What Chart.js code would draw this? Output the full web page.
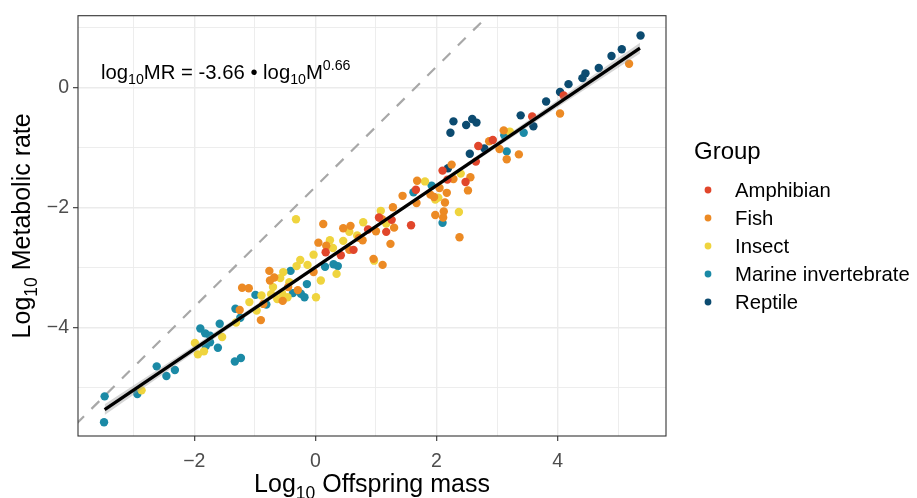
<!DOCTYPE html>
<html>
<head>
<meta charset="utf-8">
<script src="https://cdn.jsdelivr.net/npm/chart.js@4.4.1/dist/chart.umd.min.js"></script>
<style>
  html, body { margin: 0; padding: 0; background: #fff; }
  #wrap { width: 917px; height: 498px; }
</style>
</head>
<body>
<div id="wrap"><canvas id="chart" width="917" height="498"></canvas></div>
<script>
// groups + colours
const groups = ["Amphibian", "Fish", "Insect", "Marine invertebrate", "Reptile"];
const groupColors = ["#e1462b", "#ec8a24", "#efd43e", "#1b8aa6", "#0c4b70"];

// log10 offspring mass / log10 metabolic rate
const amphibianX = [0.17, 0.42, 0.63, 0.87, 1.05, 1.26, 1.17, 1.58, 1.66, 2.10, 2.18, 2.48, 2.69, 2.65, 2.93, 3.58, 4.10];
const amphibianY = [-2.74, -2.79, -2.70, -2.36, -2.16, -2.20, -2.40, -2.29, -1.70, -1.38, -1.53, -1.57, -0.97, -1.23, -0.87, -0.48, -0.13];

const fishX = [-0.90, -1.25, -1.21, -1.10, -0.86, -0.76, -0.75, -0.68, -0.54, -0.45, -0.29, -0.03, 0.05, 0.18, 0.13,
  0.46, 0.58, 0.56, 0.72, 0.78, 1.00, 1.10, 1.30, 1.24, 1.28, 0.96, 1.11, 1.44, 1.68, 1.67, 1.90, 1.96, 2.05,
  2.17, 2.14, 1.98, 2.12, 2.11, 2.38, 2.25, 2.28, 2.56, 2.52, 2.87, 3.04, 3.16, 3.36, 3.11, 4.04, 5.18];
const fishY = [-3.87, -3.70, -3.33, -3.34, -3.60, -3.05, -3.21, -3.16, -3.55, -3.32, -3.37, -3.07, -2.58, -2.63, -2.27,
  -2.34, -2.30, -2.70, -2.50, -2.54, -2.39, -2.19, -2.33, -2.60, -1.99, -2.85, -2.95, -1.80, -1.55, -1.92, -1.78, -1.82, -1.67,
  -1.75, -1.91, -2.12, -2.06, -2.16, -2.49, -1.28, -1.52, -1.49, -1.71, -0.89, -1.02, -1.19, -1.11, -0.71, -0.43, 0.40];

const insectX = [-2.87, -1.99, -1.94, -1.84, -1.54, -1.31, -1.09, -0.97, -0.89, -0.73, -0.70, -0.63, -0.58, -0.53,
  -0.55, -0.46, -0.43, -0.31, -0.25, -0.13, -0.03, 0.01, 0.09, 0.24, 0.29, 0.35, 0.46, 0.56, 0.69, 0.79, 1.08,
  1.17, 0.97, -0.32, 1.81, 1.98, 2.03, 2.37, 2.40, 3.21];
const insectY = [-5.04, -4.25, -4.44, -4.39, -4.15, -3.91, -3.57, -3.71, -3.46, -3.44, -3.32, -3.52, -3.17, -3.07,
  -3.42, -3.49, -3.24, -2.97, -2.87, -2.95, -2.78, -3.49, -3.21, -2.54, -2.67, -3.10, -2.55, -2.40, -2.46, -2.24, -2.05,
  -2.26, -2.88, -2.19, -1.56, -1.86, -1.83, -2.07, -1.43, -0.73];

const marineX = [-3.48, -3.49, -2.94, -2.62, -2.46, -2.32, -1.90, -1.82, -1.81, -1.74, -1.74, -1.58, -1.61, -1.33,
  -1.23, -1.32, -1.24, -0.99, -0.81, -0.41, -0.37, -0.24, -0.18, -0.14, 0.16, 0.30, 0.37, 1.62, 1.92, 2.10,
  3.12, 3.16, 3.44];
const marineY = [-5.14, -5.57, -5.10, -4.64, -4.80, -4.70, -4.01, -4.09, -4.30, -4.24, -4.13, -3.93, -4.33, -4.56,
  -4.50, -3.68, -3.83, -3.45, -3.61, -3.05, -3.42, -3.43, -3.49, -3.27, -2.98, -2.94, -2.97, -1.74, -1.63, -2.25,
  -0.79, -1.06, -0.75];

const reptileX = [2.19, 2.23, 2.28, 2.49, 2.59, 2.66, 2.55, 2.79, 3.39, 3.60, 3.81, 4.04, 4.18, 4.41, 4.46, 4.68, 4.89, 5.06, 5.37];
const reptileY = [-1.34, -0.75, -0.56, -0.62, -0.52, -0.58, -1.10, -1.01, -0.46, -0.64, -0.23, -0.07, 0.06, 0.16, 0.24, 0.33, 0.53, 0.64, 0.87];

// fitted line, its confidence band and the 1:1 reference line
const fitX = [-3.48, 5.36];
const fitY = [-5.36, 0.66];
const bandX = [-3.48, -2.0, -0.5, 0.94, 2.4, 3.9, 5.36];
const bandLo = [-5.45, -4.41, -3.365, -2.377, -1.39, -0.39, 0.57];
const bandHi = [-5.27, -4.295, -3.295, -2.321, -1.32, -0.275, 0.75];
const refX = [-3.95, 2.9];
const refY = [-5.6, 1.25];

// axes
const xGrid = [-3, -2, -1, 0, 1, 2, 3, 4, 5];
const yGrid = [-5, -4, -3, -2, -1, 0, 1];
const xLabels = [-2, 0, 2, 4];
const yLabels = [-4, -2, 0];

const FONT = "'Liberation Sans', Arial, sans-serif";
const pts = (xs, ys) => xs.map((x, i) => ({ x, y: ys[i] }));
const fmt = (v) => (v < 0 ? "\u2212" + Math.abs(v) : String(v));

const pointSets = [
  [amphibianX, amphibianY],
  [fishX, fishY],
  [insectX, insectY],
  [marineX, marineY],
  [reptileX, reptileY],
].map(([xs, ys], i) => ({
  type: "scatter",
  label: groups[i],
  data: pts(xs, ys),
  backgroundColor: groupColors[i],
  borderWidth: 0,
  pointRadius: 4.2,
  order: 5,
}));

// draws a run of text pieces, some of them sub- or superscript
function richWidth(ctx, parts, size) {
  let w = 0;
  parts.forEach((p) => {
    const s = p.k ? size * 0.7 : size;
    ctx.font = s + "px " + FONT;
    w += ctx.measureText(p.t).width;
  });
  return w;
}
function drawRich(ctx, parts, x, y, size) {
  let cx = x;
  parts.forEach((p) => {
    const s = p.k ? size * 0.7 : size;
    ctx.font = s + "px " + FONT;
    let dy = 0;
    if (p.k === "sub") dy = size * 0.28;
    if (p.k === "sup") dy = -size * 0.42;
    ctx.fillText(p.t, cx, y + dy);
    cx += ctx.measureText(p.t).width;
  });
}

const decor = {
  id: "decor",
  afterDraw(chart) {
    const { ctx, chartArea: a } = chart;
    ctx.save();
    ctx.strokeStyle = "#333333";
    ctx.lineWidth = 1.1;
    ctx.strokeRect(a.left, a.top, a.right - a.left, a.bottom - a.top);

    ctx.fillStyle = "#000";
    ctx.textBaseline = "alphabetic";
    ctx.textAlign = "left";
    // equation
    drawRich(ctx, [
      { t: "log" }, { t: "10", k: "sub" }, { t: "MR = -3.66 \u2022 log" },
      { t: "10", k: "sub" }, { t: "M" }, { t: "0.66", k: "sup" },
    ], a.left + 23, a.top + 63, 20.3);

    // axis titles
    const xt = [{ t: "Log" }, { t: "10", k: "sub" }, { t: " Offspring mass" }];
    const xw = richWidth(ctx, xt, 25);
    drawRich(ctx, xt, (a.left + a.right) / 2 - xw / 2, 492, 25);

    const yt = [{ t: "Log" }, { t: "10", k: "sub" }, { t: " Metabolic rate" }];
    const yw = richWidth(ctx, yt, 25);
    ctx.save();
    ctx.translate(30, (a.top + a.bottom) / 2);
    ctx.rotate(-Math.PI / 2);
    drawRich(ctx, yt, -yw / 2, 0, 25);
    ctx.restore();

    // legend
    ctx.font = "24px " + FONT;
    ctx.textBaseline = "middle";
    ctx.fillText("Group", 694, 152);
    ctx.font = "20.3px " + FONT;
    groups.forEach((g, i) => {
      const y = 190 + i * 28;
      ctx.fillStyle = groupColors[i];
      ctx.beginPath();
      ctx.arc(708, y, 3.4, 0, Math.PI * 2);
      ctx.fill();
      ctx.fillStyle = "#000";
      ctx.fillText(g, 735, y + 1);
    });
    ctx.restore();
  },
};

const gridStyle = (majors) => ({
  color: "#ebebeb",
  lineWidth: (c) => (c.tick && majors.includes(c.tick.value) ? 1.4 : 0.9),
  tickColor: (c) => (c.tick && majors.includes(c.tick.value) ? "#333333" : "rgba(0,0,0,0)"),
  tickLength: 5,
  tickWidth: 1.1,
});

new Chart(document.getElementById("chart"), {
  type: "scatter",
  data: {
    datasets: [
      ...pointSets,
      {
        type: "line",
        data: pts(fitX, fitY),
        borderColor: "#000",
        borderWidth: 3.2,
        pointRadius: 0,
        fill: false,
        order: 1,
      },
      {
        type: "line",
        data: pts(bandX, bandHi),
        borderWidth: 0,
        pointRadius: 0,
        backgroundColor: "rgba(153,153,153,0.4)",
        fill: "+1",
        order: 2,
      },
      {
        type: "line",
        data: pts(bandX, bandLo),
        borderWidth: 0,
        pointRadius: 0,
        fill: false,
        order: 2,
      },
      {
        type: "line",
        data: pts(refX, refY),
        borderColor: "#a8a8a8",
        borderWidth: 2.2,
        borderDash: [11, 10.5],
        pointRadius: 0,
        fill: false,
        order: 10,
      },
    ],
  },
  options: {
    responsive: false,
    animation: false,
    devicePixelRatio: 1,
    layout: { padding: { left: 0, top: 12, right: 251, bottom: 0 } },
    plugins: { legend: { display: false }, tooltip: { enabled: false } },
    scales: {
      x: {
        type: "linear",
        min: -3.92,
        max: 5.79,
        afterBuildTicks: (s) => { s.ticks = xGrid.map((v) => ({ value: v })); },
        afterFit: (s) => { s.height = 62; },
        border: { display: false },
        grid: gridStyle(xLabels),
        ticks: {
          autoSkip: false,
          maxRotation: 0,
          padding: 9,
          color: "#4d4d4d",
          font: { family: FONT, size: 19.5 },
          callback: (v) => (xLabels.includes(v) ? fmt(v) : ""),
        },
      },
      y: {
        type: "linear",
        min: -5.8,
        max: 1.2,
        afterBuildTicks: (s) => { s.ticks = yGrid.map((v) => ({ value: v })); },
        afterFit: (s) => { s.width = 78; },
        border: { display: false },
        grid: gridStyle(yLabels),
        ticks: {
          autoSkip: false,
          padding: 4,
          color: "#4d4d4d",
          font: { family: FONT, size: 19.5 },
          callback: (v) => (yLabels.includes(v) ? fmt(v) : ""),
        },
      },
    },
  },
  plugins: [decor],
});
</script>
</body>
</html>
